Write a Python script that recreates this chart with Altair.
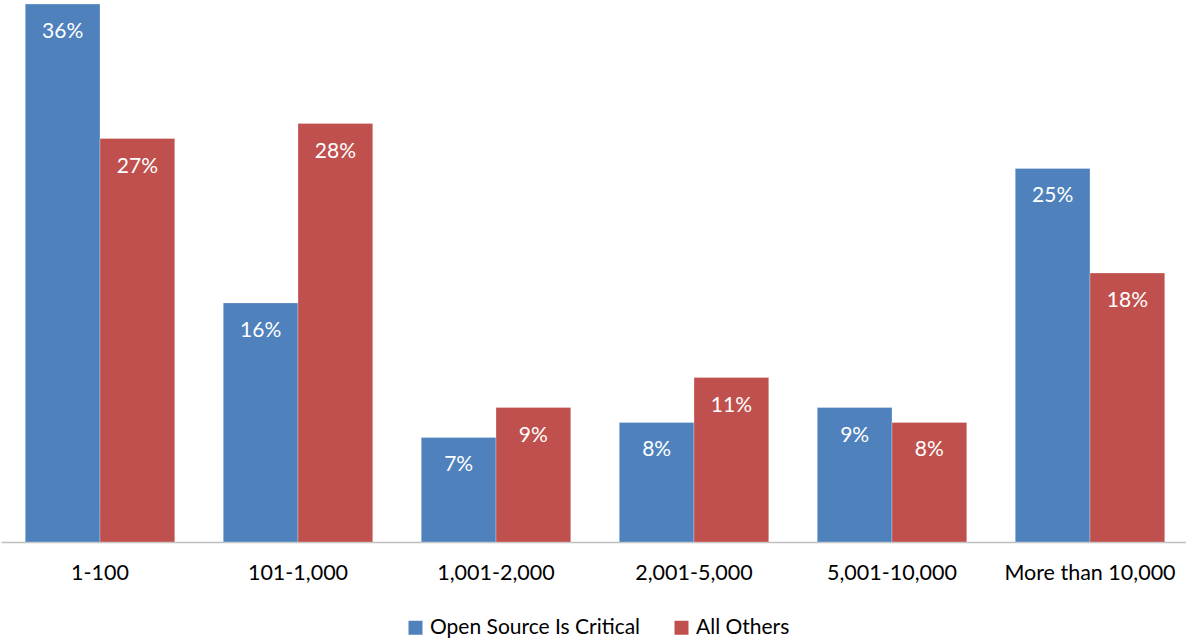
import altair as alt
import pandas as pd

# Company-size buckets and share of respondents per group
categories = ["1-100", "101-1,000", "1,001-2,000", "2,001-5,000", "5,001-10,000", "More than 10,000"]
critical = [36, 16, 7, 8, 9, 25]
others = [27, 28, 9, 11, 8, 18]
series = ["Open Source Is Critical", "All Others"]
colors = ["#4F81BD", "#C0504D"]

rows = []
for cat, a, b in zip(categories, critical, others):
    rows.append({"size": cat, "group": series[0], "pct": a, "label": f"{a}%"})
    rows.append({"size": cat, "group": series[1], "pct": b, "label": f"{b}%"})
df = pd.DataFrame(rows)

FONT = "Lato"
pin = 0.245

x_enc = alt.X(
    "size:N",
    sort=categories,
    title=None,
    scale=alt.Scale(paddingInner=pin, paddingOuter=pin / 2, range=[0, 1188]),
    axis=alt.Axis(
        labelAngle=0,
        labelFont=FONT,
        labelFontSize=21.5,
        labelColor="#000000",
        labelBaseline="middle",
        labelPadding=31,
        ticks=False,
        domainColor="#BFBFBF",
        domainWidth=1.5,
        grid=False,
    ),
)
y_enc = alt.Y(
    "pct:Q",
    scale=alt.Scale(domain=[0, 36], nice=False),
    axis=None,
)
offset = alt.XOffset("group:N", sort=series)

bars = alt.Chart(df).mark_bar(stroke="#FFFFFF", strokeOpacity=0.35, strokeWidth=0.8).encode(
    x=x_enc,
    xOffset=offset,
    y=y_enc,
    color=alt.Color(
        "group:N",
        sort=series,
        scale=alt.Scale(domain=series, range=colors),
        legend=alt.Legend(
            title=None,
            orient="none",
            direction="horizontal",
            legendX=404,
            legendY=613,
            symbolType="square",
            symbolSize=196,
            symbolStrokeWidth=0,
            labelFont=FONT,
            labelFontSize=21,
            labelColor="#000000",
            labelLimit=0,
            columnPadding=30,
            symbolOffset=0,
            labelOffset=4,
        ),
    ),
)

labels = alt.Chart(df).mark_text(
    color="#FFFFFF",
    font=FONT,
    fontSize=21,
    baseline="middle",
    dy=28,
).encode(
    x=alt.X("size:N", sort=categories),
    xOffset=offset,
    y="pct:Q",
    text="label:N",
)

chart = (
    alt.layer(bars, labels)
    .properties(
        width=1184,
        height=538,
        padding={"left": 1, "top": 4, "right": 1, "bottom": 97},
        autosize=alt.AutoSizeParams(type="none"),
        view=alt.ViewBackground(stroke="transparent", strokeWidth=0),
    )
    .configure_view(stroke="transparent", strokeWidth=0)
    .configure(background="#FFFFFF")
)

chart.save("out.html", embed_options={"renderer": "svg", "actions": False})
